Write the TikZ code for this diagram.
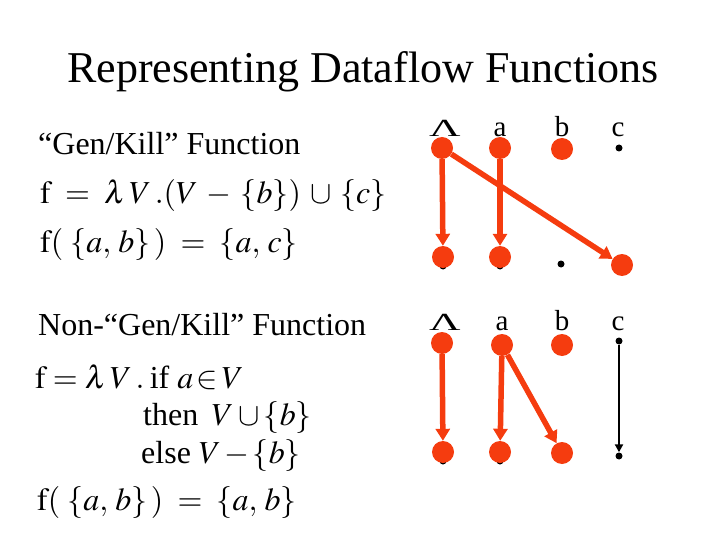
\documentclass[tikz,border=0pt]{standalone}
\usepackage{mathptmx}
\usepackage{fontspec}
\setmainfont{Liberation Serif}
\usetikzlibrary{arrows.meta}
\definecolor{dotred}{RGB}{245,60,15}
\tikzset{
  bigdot/.style={circle,fill=dotred,minimum size=22pt,inner sep=0pt},
  smalldot/.style={circle,fill=black,minimum size=7pt,inner sep=0pt},
  redarrow/.style={dotred,line width=5.5pt,-{Triangle[width=14pt,length=12pt]}},
  blackarrow/.style={black,line width=2.5pt,-{Triangle[width=8pt,length=8pt]}},
  lbl/.style={font=\fontsize{29}{32}\selectfont,anchor=base,inner sep=0pt},
  txt/.style={font=\fontsize{32}{38}\selectfont,anchor=base west,inner sep=0pt},
}
\newcommand{\wedgelbl}{\scalebox{1.5}[0.85]{Λ}}
\begin{document}
\begin{tikzpicture}[x=1pt,y=-1pt]
\useasboundingbox (0,0) rectangle (720,540);
\node[txt,font=\fontsize{44}{50}\selectfont] (title) at (67,83) {Representing Dataflow Functions};

\node[txt] (gkhead) at (38,155) {“Gen/Kill” Function};
\node[txt] (gkdef) at (40,204) {$\mathrm{f}\;=\;\lambda\,V\,.(V\:-\:\{b\})\:\cup\:\{c\}$};
\node[txt] (gkapp) at (40,252) {$\mathrm{f}(\;\{a,\,b\}\,)\;=\;\{a,\,c\}$};

\node[txt] (nghead) at (38,335) {Non-“Gen/Kill” Function};
\node[txt] (ngdef) at (35,388) {$\mathrm{f} = \lambda\,V\,.$\,if $a\,{\in}\,V$};
\node[txt] (ngthen) at (143,425) {then \,$V \cup \{b\}$};
\node[txt] (ngelse) at (141,463) {else $V\,{-}\,\{b\}$};
\node[txt] (ngapp) at (37,510) {$\mathrm{f}(\;\{a,\,b\}\,)\;=\;\{a,\,b\}$};

\node[lbl] (gkLl) at (445,137) {\wedgelbl};
\node[lbl] (gkal) at (500,137) {a};
\node[lbl] (gkbl) at (562,137) {b};
\node[lbl] (gkcl) at (618,137) {c};
\node[smalldot] (gkLs) at (443,266) {};
\node[smalldot] (gkas) at (500,266) {};
\node[bigdot] (gkLt) at (442,148) {};
\node[bigdot] (gkat) at (500,148) {};
\node[bigdot] (gkbt) at (562,149) {};
\node[smalldot] (gkct) at (619,148) {};
\node[bigdot] (gkLb) at (443,257) {};
\node[bigdot] (gkab) at (500,257) {};
\node[smalldot] (gkbb) at (561,264) {};
\node[bigdot] (gkcb) at (622,265) {};
\draw[redarrow] (gkLt) -- (gkLb);
\draw[redarrow] (gkat) -- (gkab);
\draw[redarrow] (gkLt) -- (gkcb);

\node[lbl] (ngLl) at (445,330) {\wedgelbl};
\node[lbl] (ngal) at (502,330) {a};
\node[lbl] (ngbl) at (562,330) {b};
\node[lbl] (ngcl) at (618,330) {c};
\node[smalldot] (ngLs) at (443,461) {};
\node[smalldot] (ngas) at (500,461) {};
\node[bigdot] (ngLt) at (442,343) {};
\node[bigdot] (ngat) at (502,345) {};
\node[bigdot] (ngbt) at (562,345) {};
\node[smalldot] (ngct) at (619,341) {};
\node[bigdot] (ngLb) at (443,452) {};
\node[bigdot] (ngab) at (500,452) {};
\node[bigdot] (ngbb) at (562,453) {};
\node[smalldot] (ngcb) at (619,456) {};
\draw[redarrow] (ngLt) -- (ngLb);
\draw[redarrow] (ngat) -- (ngab);
\draw[redarrow] (ngat) -- (ngbb);
\draw[blackarrow] (ngct) -- (ngcb);
\end{tikzpicture}
\end{document}
